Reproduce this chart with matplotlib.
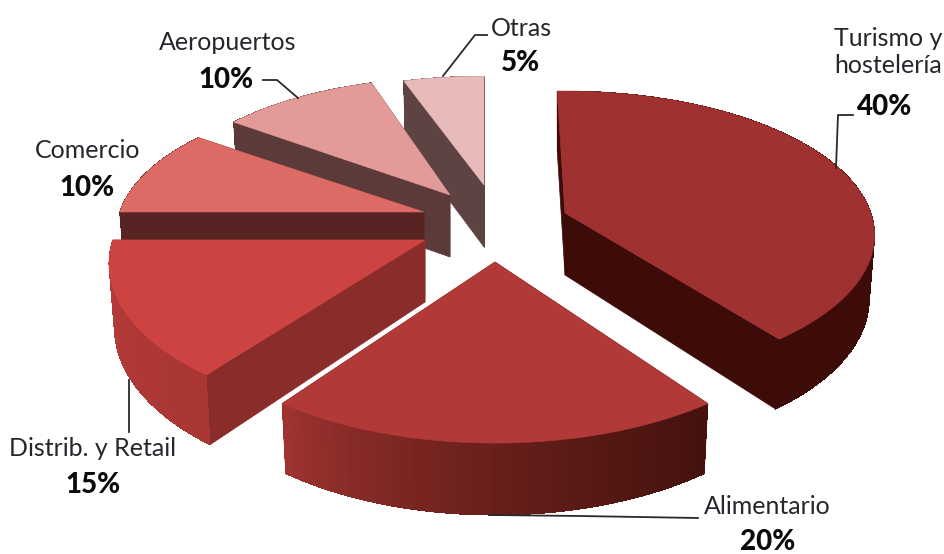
import numpy as np
import matplotlib
matplotlib.use("Agg")
import matplotlib.pyplot as plt
from matplotlib.colors import to_rgb

# chart data, clockwise from 12 o'clock
categories = ["Turismo y\nhostelería", "Alimentario", "Distrib. y Retail", "Comercio", "Aeropuertos", "Otras"]
shares = [40, 20, 15, 10, 10, 5]

# exploded slice layout in pixels
apex_x = [565, 495, 425, 424, 450, 484]
apex_y = [213, 262, 240, 212, 195, 185]
scale_x = [0.965, 1.0, 0.985, 0.96, 0.92, 0.94]
scale_y = [1.02, 1.11, 1.09, 1.0, 0.98, 0.91]
rot_start = [-1.7, 0, 2, 0, 0, 0]
rot_end = [-2, 0, 0, 0, 0, 0]

# colours
top_col = ["#9F3230", "#B13A38", "#CC4342", "#DC6A65", "#E29B99", "#E8BABA"]
cut_col = ["#3E0C08", "#6B1B16", "#8A2C29", "#572423", "#5C3A3A", "#5E4343"]
wall_left = ["#3E0C08", "#A33532", "#B33A38", "#572423", "#5C3A3A", "#5E4343"]
wall_right = ["#3E0C08", "#45120E", "#A83633", "#572423", "#5C3A3A", "#5E4343"]

# label positions
name_pos = [(888, 52), (767, 507), (93, 448), (88, 150), (228, 42), (521, 28)]
pct_pos = [(885, 107), (768, 542), (93, 485), (87, 188), (226, 80), (520, 63)]
leaders = [
    ([836, 838, 853], [168, 115, 115]),
    ([490, 580, 698], [515, 516, 518]),
    ([129, 129], [380, 432]),
    ([], []),
    ([263, 277, 298], [80, 80, 98]),
    ([443, 475, 487], [76, 35, 35]),
]

RX, RY, PERSP = 317, 138, 0.154


def project(deg, i):
    # tilted disc with a bit of perspective, 0 deg = top, clockwise
    a = np.radians(deg)
    u, v = np.sin(a), np.cos(a)
    f = 1 + PERSP * v
    x = apex_x[i] + scale_x[i] * RX * u / f
    y = apex_y[i] - scale_y[i] * RY * v / f
    return x, y, v


def drop(x, y, v, i):
    # bottom edge of the wall
    d = np.interp(v, [-1, 0, 1], [72, 62, 60])
    return apex_x[i] + (x - apex_x[i]) * 0.983, y + d


fig = plt.figure(figsize=(9.45, 5.54), dpi=100)
ax = fig.add_axes([0, 0, 1, 1])
ax.set_xlim(0, 945)
ax.set_ylim(554, 0)
ax.axis("off")

ends = np.cumsum(shares) / sum(shares) * 360
starts = ends - np.array(shares) / sum(shares) * 360

# back to front
order = [5, 4, 3, 0, 2, 1]
for z, i in enumerate(order):
    ang = np.linspace(starts[i] + rot_start[i], ends[i] + rot_end[i], 60)
    xs, ys, vs = project(ang, i)
    bx, by = drop(xs, ys, vs, i)
    ax0, ay0 = apex_x[i], apex_y[i]
    bx0, by0 = ax0, ay0 + 62

    # cut faces
    for j in (0, -1):
        ax.fill([ax0, xs[j], bx[j], bx0], [ay0, ys[j], by[j], by0],
                color=cut_col[i], lw=0.5, zorder=z * 3 + 1)

    # outer wall, shaded strip by strip, each strip overlaps the next one
    c0, c1 = np.array(to_rgb(wall_left[i])), np.array(to_rgb(wall_right[i]))
    span = max(xs.max() - xs.min(), 1)
    for k in range(len(ang) - 1):
        t = ((xs[k] - xs.min()) / span) ** 0.7
        m = min(k + 2, len(ang) - 1)
        ax.fill([xs[k], xs[k + 1], xs[m], bx[m], bx[k + 1], bx[k]],
                [ys[k], ys[k + 1], ys[m], by[m], by[k + 1], by[k]],
                color=tuple(c0 + (c1 - c0) * t), lw=0, antialiased=False, zorder=z * 3 + 2)

    # top face
    ax.fill(np.r_[ax0, xs], np.r_[ay0, ys], color=top_col[i], lw=0.4, zorder=z * 3 + 3)

font = "Lato"
for i, name in enumerate(categories):
    ax.text(name_pos[i][0], name_pos[i][1], name, ha="center", va="center", fontsize=18,
            family=font, color="#26262c", linespacing=1.25, zorder=50)
    ax.text(pct_pos[i][0], pct_pos[i][1], f"{shares[i]}%", ha="center", va="center", fontsize=20,
            family=font, fontweight="black", color="#0b0b0b", zorder=50)
    if leaders[i][0]:
        ax.plot(leaders[i][0], leaders[i][1], color="#2a2a2a", lw=1.3, zorder=40)

fig.savefig("out.png", dpi=100, facecolor="white")
